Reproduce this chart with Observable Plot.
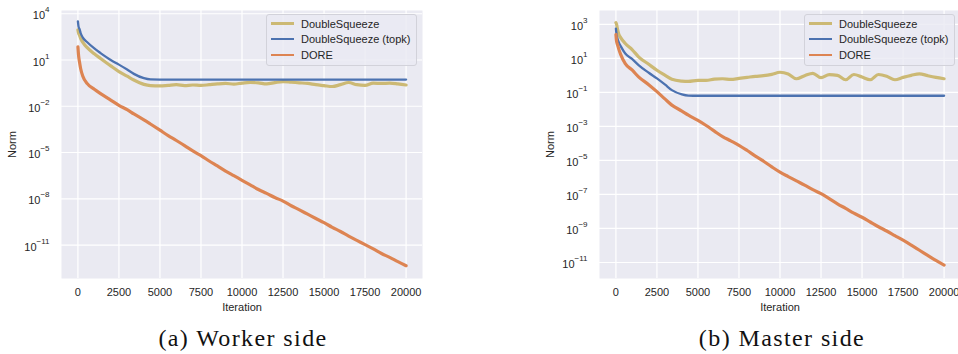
<!DOCTYPE html>
<html><head><meta charset="utf-8">
<script src="https://cdn.jsdelivr.net/npm/d3@7"></script>
<script src="https://cdn.jsdelivr.net/npm/@observablehq/plot@0.6"></script>
<style>
html,body{margin:0;padding:0;background:#fff;}
#wrap{position:relative;width:958px;height:354px;overflow:hidden;}
.panel{position:absolute;top:0;}
.legend{position:absolute;box-sizing:border-box;background:rgba(234,234,242,0.8);border:1px solid #d2d2da;border-radius:3px;font:11px "Liberation Sans",Arial,sans-serif;color:#262626;}
.legend .row{position:absolute;left:4px;height:14px;display:flex;align-items:center;white-space:nowrap;}
.legend .sw{width:23px;height:2.3px;margin-right:7px;}
.caption{position:absolute;top:325px;font-family:"Liberation Serif","Times New Roman",serif;font-size:24px;letter-spacing:1.4px;color:#111;white-space:nowrap;transform:translateX(-50%);}
</style></head><body><div id="wrap"></div>
<script>
// ---- data (norm values stored as log10 exponents) ----
const seriesNames = ["DoubleSqueeze", "DoubleSqueeze (topk)", "DORE"];
const seriesColors = ["#CCB974", "#4C72B0", "#DD8452"];
const iterations = [0, 40, 100, 165, 300, 570, 1000, 1380, 2000, 2500, 3000, 3410, 4020, 4420,
  5000, 5500, 6000, 6500, 7000, 7500, 8000, 8500, 9000, 9500,
  10000, 10500, 11000, 11500, 12000, 12500, 13000, 13500, 14000, 14500,
  15000, 15500, 16000, 16500, 17000, 17500, 18000, 18500, 19000, 19500, 20000];
const xTicks = [0, 2500, 5000, 7500, 10000, 12500, 15000, 17500, 20000];
const leftYTicks = [1e4, 1e1, 1e-2, 1e-5, 1e-8, 1e-11];
const rightYTicks = [1e3, 1e1, 1e-1, 1e-3, 1e-5, 1e-7, 1e-9, 1e-11];

// Worker side
const workerDoubleSqueezeLog10 = [2.95, 2.75, 2.6, 2.4, 2.15, 1.8, 1.4, 1.1, 0.62, 0.25, -0.05, -0.3, -0.58, -0.66,
  -0.68, -0.64, -0.6, -0.66, -0.62, -0.65, -0.6, -0.55, -0.52, -0.56,
  -0.5, -0.45, -0.48, -0.55, -0.47, -0.4, -0.44, -0.48, -0.52, -0.6,
  -0.66, -0.72, -0.6, -0.46, -0.6, -0.64, -0.5, -0.52, -0.5, -0.55, -0.62];
const workerTopkLog10 = [3.5, 3.15, 3.0, 2.75, 2.45, 2.15, 1.75, 1.45, 1.0, 0.7, 0.38, 0.1, -0.18, -0.26,
  -0.27, -0.27, -0.27, -0.27, -0.27, -0.27, -0.27, -0.27, -0.27, -0.27,
  -0.27, -0.27, -0.27, -0.27, -0.27, -0.27, -0.27, -0.27, -0.27, -0.27,
  -0.27, -0.27, -0.27, -0.27, -0.27, -0.27, -0.27, -0.27, -0.27, -0.27, -0.27];
const workerDoreLog10 = [1.85, 1.3, 0.85, 0.45, -0.05, -0.53, -0.9, -1.18, -1.6, -1.94, -2.22, -2.5, -2.88, -3.15,
  -3.55, -3.9, -4.22, -4.55, -4.9, -5.2, -5.55, -5.87, -6.2, -6.5,
  -6.8, -7.1, -7.4, -7.65, -7.92, -8.15, -8.45, -8.72, -9.0, -9.28,
  -9.55, -9.85, -10.12, -10.42, -10.7, -10.97, -11.25, -11.55, -11.8, -12.08, -12.34];

// Master side
const masterDoubleSqueezeLog10 = [3.1, 3.0, 2.7, 2.45, 2.2, 1.87, 1.5, 1.09, 0.65, 0.3, 0.0, -0.23, -0.34, -0.36,
  -0.3, -0.3, -0.22, -0.2, -0.24, -0.18, -0.12, -0.06, -0.02, 0.06,
  0.18, 0.08, -0.2, -0.02, 0.12, -0.14, 0.04, 0.0, -0.26, 0.05,
  -0.1, -0.26, 0.05, -0.05, -0.26, -0.12, 0.0, 0.09, -0.02, -0.12, -0.2];
const masterTopkLog10 = [2.75, 2.4, 2.15, 1.97, 1.7, 1.28, 0.95, 0.6, 0.15, -0.18, -0.55, -0.87, -1.12, -1.19,
  -1.2, -1.2, -1.2, -1.2, -1.2, -1.2, -1.2, -1.2, -1.2, -1.2,
  -1.2, -1.2, -1.2, -1.2, -1.2, -1.2, -1.2, -1.2, -1.2, -1.2,
  -1.2, -1.2, -1.2, -1.2, -1.2, -1.2, -1.2, -1.2, -1.2, -1.2, -1.2];
const masterDoreLog10 = [2.4, 2.0, 1.8, 1.57, 1.2, 0.69, 0.3, -0.09, -0.55, -0.96, -1.4, -1.75, -2.1, -2.34,
  -2.65, -2.95, -3.28, -3.6, -3.85, -4.11, -4.42, -4.75, -5.05, -5.38,
  -5.69, -5.95, -6.2, -6.45, -6.72, -6.95, -7.25, -7.55, -7.82, -8.1,
  -8.34, -8.62, -8.9, -9.15, -9.42, -9.69, -9.98, -10.28, -10.58, -10.88, -11.15];

const captions = ["(a) Worker side", "(b) Master side"];

// ---- drawing ----
const FONT = '"Liberation Sans", Arial, sans-serif';
const lineWidths = [3.2, 2.3, 3.2];
function toRows(arr, k) {
  return arr.map((v, i) => ({it: iterations[i], norm: Math.pow(10, v), name: seriesNames[k]}));
}
function superscriptTicks(svg) {
  const ns = "http://www.w3.org/2000/svg";
  svg.querySelectorAll("text").forEach(t => {
    const m = /^10\^(-?\d+)$/.exec(t.textContent.trim());
    if (!m) return;
    while (t.firstChild) t.removeChild(t.firstChild);
    const a = document.createElementNS(ns, "tspan");
    a.textContent = "10"; a.setAttribute("dy", "2");
    const b = document.createElementNS(ns, "tspan");
    b.textContent = m[1].replace("-", "\u2212");
    b.setAttribute("dy", "-7"); b.setAttribute("font-size", "8px");
    t.append(a, b);
  });
}
function panel({series, yDomain, yTicks, width, marginRight}) {
  const svg = Plot.plot({
    width, height: 318, marginLeft: 61, marginRight, marginTop: 10, marginBottom: 40,
    style: {fontFamily: FONT, fontSize: "11px", color: "#262626", background: "transparent", overflow: "visible"},
    x: {domain: [-1000, 21000], ticks: xTicks, tickFormat: d => String(d), tickSize: 0, tickPadding: 10,
        label: "Iteration", labelAnchor: "center", labelOffset: 32, labelArrow: "none"},
    y: {type: "log", domain: yDomain, ticks: yTicks, tickFormat: d => "10^" + Math.round(Math.log10(d)),
        tickSize: 0, tickPadding: 12, label: "Norm", labelAnchor: "center", labelOffset: 53, labelArrow: "none"},
    color: {domain: seriesNames, range: seriesColors},
    marks: [
      Plot.frame({fill: "#EAEAF2", stroke: "none"}),
      Plot.ruleX(xTicks, {stroke: "white", strokeWidth: 1.2}),
      Plot.ruleY(yTicks, {stroke: "white", strokeWidth: 1.2}),
      ...series.map((arr, k) => Plot.line(toRows(arr, k), {x: "it", y: "norm", stroke: "name",
        strokeWidth: lineWidths[k], curve: "monotone-x"}))
    ]
  });
  superscriptTicks(svg);
  return svg;
}
function legend(left, top) {
  const d = document.createElement("div");
  d.className = "legend";
  d.style.left = left + "px"; d.style.top = top + "px";
  d.style.width = "151px"; d.style.height = "52px";
  const rowTops = [1.5, 17.2, 33.2];
  seriesNames.forEach((n, i) => {
    const r = document.createElement("div");
    r.className = "row"; r.style.top = rowTops[i] + "px";
    const sw = document.createElement("div");
    sw.className = "sw"; sw.style.background = seriesColors[i];
    const tx = document.createElement("span"); tx.textContent = n;
    r.append(sw, tx); d.append(r);
  });
  return d;
}
const wrap = document.getElementById("wrap");
const left = panel({series: [workerDoubleSqueezeLog10, workerTopkLog10, workerDoreLog10],
  yDomain: [Math.pow(10, -13.17), Math.pow(10, 4.21)], yTicks: leftYTicks, width: 440, marginRight: 18});
left.classList.add("panel"); left.style.left = "0px";
const right = panel({series: [masterDoubleSqueezeLog10, masterTopkLog10, masterDoreLog10],
  yDomain: [Math.pow(10, -11.94), Math.pow(10, 3.81)], yTicks: rightYTicks, width: 422, marginRight: 0});
right.classList.add("panel"); right.style.left = "538px";
wrap.append(left, right, legend(266, 14), legend(804, 14));
[[captions[0], 243], [captions[1], 782]].forEach(([t, cx]) => {
  const c = document.createElement("div");
  c.className = "caption"; c.textContent = t; c.style.left = cx + "px";
  wrap.append(c);
});
</script></body></html>
